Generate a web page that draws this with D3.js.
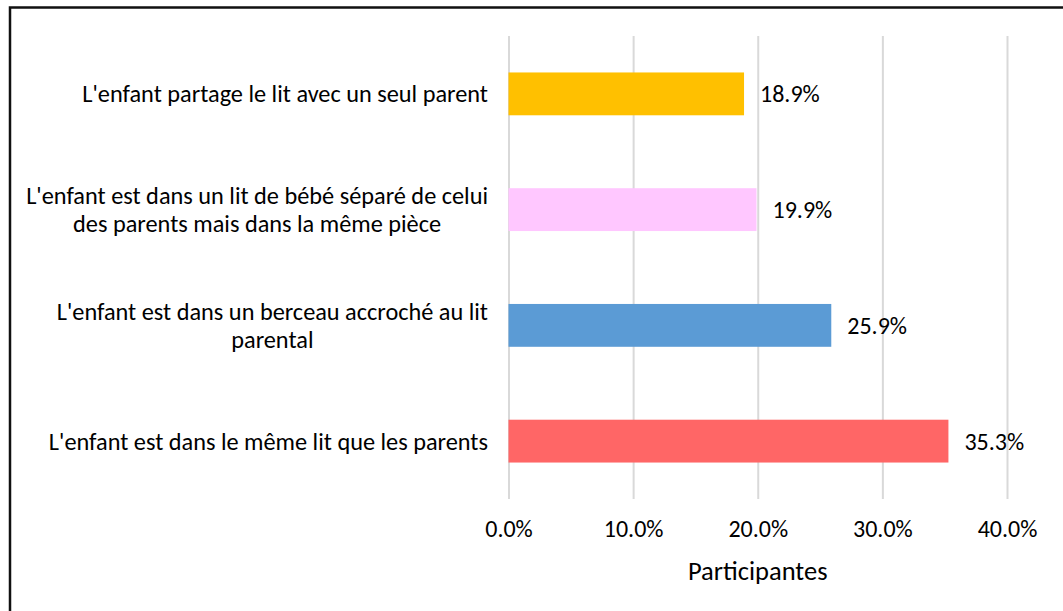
<html>
<head>
<meta charset="utf-8">
<script src="https://cdn.jsdelivr.net/npm/d3@7"></script>
<style>
body{
	margin: 0;
	background: #fff;
}
text {
	font-family: Calibri, Carlito, Lato, sans-serif;
	fill: #000;
}
.grid line {
	stroke: #d9d9d9;
	stroke-width: 2;
}
.grid .domain { display: none; }
.xaxis .domain { display: none; }
</style>
</head>
<body>
<div id="chart"></div>
<script>
// data (top to bottom)
var categories = [
	["L'enfant partage le lit avec un seul parent"],
	["L'enfant est dans un lit de bébé séparé de celui", "des parents mais dans la même pièce"],
	["L'enfant est dans un berceau accroché au lit", "parental"],
	["L'enfant est dans le même lit que les parents"]
];
var values = [0.189, 0.199, 0.259, 0.353];
var colors = ["#ffc000", "#ffc7ff", "#5b9bd5", "#ff6666"];
var tickValues = [0, 0.1, 0.2, 0.3, 0.4];
var axisTitle = "Participantes";

var W = 1063, H = 611;
var plot = {left: 508.5, right: 1007, top: 36, bottom: 499};

var svg = d3.select("#chart").append("svg")
	.attr("width", W)
	.attr("height", H);

// frame (top + left edges only)
svg.append("path")
	.attr("d", "M10," + H + " L10,7.5 L" + W + ",7.5")
	.attr("fill", "none")
	.attr("stroke", "#111")
	.attr("stroke-width", 2.5);

var ids = categories.map(function(d, i) { return i; });

var x = d3.scaleLinear().domain([0, 0.4]).range([plot.left, plot.right]);
var y = d3.scaleBand().domain(ids).range([plot.top, plot.bottom])
	.paddingInner(0.63).paddingOuter(0.315);

// gridlines
svg.append("g")
	.attr("class", "grid")
	.attr("transform", "translate(0," + plot.bottom + ")")
	.call(d3.axisBottom(x).tickValues(tickValues).tickSize(-(plot.bottom - plot.top)).tickFormat(""));

// bars
svg.selectAll("rect.bar")
	.data(values)
	.enter().append("rect")
	.attr("class", "bar")
	.attr("x", x(0))
	.attr("y", function(d, i) { return y(i); })
	.attr("width", function(d) { return x(d) - x(0); })
	.attr("height", y.bandwidth())
	.attr("fill", function(d, i) { return colors[i]; });

// value labels
svg.selectAll("text.val")
	.data(values)
	.enter().append("text")
	.attr("class", "val")
	.attr("x", function(d) { return x(d) + 16; })
	.attr("y", function(d, i) { return y(i) + y.bandwidth() / 2; })
	.attr("dy", "0.35em")
	.style("font-size", "24px")
	.text(function(d) { return d3.format(".1%")(d); });

// x axis
var xa = svg.append("g")
	.attr("class", "xaxis")
	.attr("transform", "translate(0," + plot.bottom + ")")
	.call(d3.axisBottom(x).tickValues(tickValues).tickSize(0).tickPadding(21).tickFormat(d3.format(".1%")));
xa.selectAll("text")
	.attr("fill", "#000")
	.style("font-size", "24px")
	.style("font-family", "Calibri, Carlito, Lato, sans-serif");

svg.append("text")
	.attr("x", (plot.left + plot.right) / 2)
	.attr("y", 580)
	.attr("text-anchor", "middle")
	.style("font-size", "26.5px")
	.text(axisTitle);

// category labels: lines centred on each other, block right-aligned
var lineH = 28;
var labelRight = 488;
categories.forEach(function(lines, i) {
	var cy = y(i) + y.bandwidth() / 2;
	var t = svg.append("text")
		.attr("text-anchor", "middle")
		.style("font-size", "24.3px");
	lines.forEach(function(line, k) {
		t.append("tspan")
			.attr("x", 0)
			.attr("y", cy + (k - (lines.length - 1) / 2) * lineH)
			.attr("dy", "0.35em")
			.text(line);
	});
	var bb = t.node().getBBox();
	t.attr("transform", "translate(" + (labelRight - bb.width / 2) + ",0)");
});
</script>
</body>
</html>
